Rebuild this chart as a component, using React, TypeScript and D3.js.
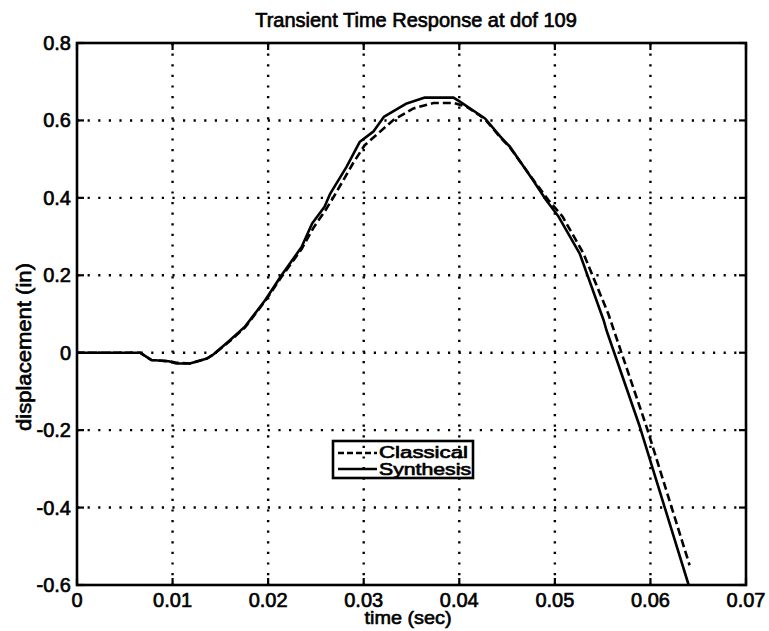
import React from "react";
import * as d3 from "d3";

const title = "Transient Time Response at dof 109";
const xLabel = "time (sec)";
const yLabel = "displacement (in)";
const xTicks = [0, 0.01, 0.02, 0.03, 0.04, 0.05, 0.06, 0.07];
const yTicks = [-0.6, -0.4, -0.2, 0, 0.2, 0.4, 0.6, 0.8];
const legendNames = ["Classical", "Synthesis"];

const synthT = [0, 0.0066, 0.0078, 0.0096, 0.0104, 0.0118, 0.0136, 0.0143, 0.016, 0.0176, 0.0197, 0.0214, 0.0235, 0.0246, 0.0259, 0.0265, 0.0282, 0.0296, 0.031, 0.0321, 0.0345, 0.0364, 0.0394, 0.0401, 0.0427, 0.0443, 0.0453, 0.0477, 0.0491, 0.0504, 0.0526, 0.0551, 0.0554, 0.0589, 0.064];
const synthY = [0, 0, -0.019, -0.022, -0.028, -0.028, -0.015, -0.004, 0.032, 0.068, 0.136, 0.2, 0.273, 0.334, 0.377, 0.411, 0.48, 0.545, 0.571, 0.609, 0.644, 0.659, 0.659, 0.648, 0.605, 0.558, 0.532, 0.446, 0.394, 0.351, 0.256, 0.084, 0.058, -0.192, -0.6];

const classT = [0, 0.0066, 0.0078, 0.0096, 0.0104, 0.0118, 0.0136, 0.0143, 0.016, 0.0176, 0.0197, 0.0214, 0.0235, 0.0248, 0.026, 0.0268, 0.0289, 0.0301, 0.0331, 0.0352, 0.0373, 0.0394, 0.0408, 0.0427, 0.0443, 0.0453, 0.0477, 0.0493, 0.0508, 0.053, 0.0556, 0.0596, 0.0641];
const classY = [0, 0, -0.019, -0.022, -0.026, -0.028, -0.015, -0.004, 0.03, 0.066, 0.134, 0.196, 0.268, 0.325, 0.368, 0.4, 0.49, 0.536, 0.601, 0.631, 0.645, 0.645, 0.635, 0.603, 0.556, 0.53, 0.448, 0.395, 0.352, 0.256, 0.1, -0.192, -0.549];

const W = 769;
const H = 631;
const M = { left: 77, right: 23, top: 43, bottom: 46 };
const FONT = "'Liberation Sans', Arial, Helvetica, sans-serif";

export default function App() {
  const x = d3.scaleLinear().domain([0, 0.07]).range([M.left, W - M.right]);
  const y = d3.scaleLinear().domain([-0.6, 0.8]).range([H - M.bottom, M.top]);
  const line = d3
    .line<[number, number]>()
    .x((d) => x(d[0]))
    .y((d) => y(d[1]));
  const synth = synthT.map((t, i) => [t, synthY[i]] as [number, number]);
  const classical = classT.map((t, i) => [t, classY[i]] as [number, number]);
  const x0 = x(0), x1 = x(0.07), y0 = y(-0.6), y1 = y(0.8);
  const tickLen = 7;
  const textStyle = { fontFamily: FONT, fill: "#000", stroke: "#000", strokeWidth: 0.65 };

  return (
    <svg
      width={W}
      height={H}
      style={{ position: "absolute", left: 0, top: 0, background: "#fff" }}
    >
      <rect x={0} y={0} width={W} height={H} fill="#fff" />
      {/* grid */}
      {xTicks.slice(1, -1).map((t) => (
        <line key={"gx" + t} x1={x(t)} x2={x(t)} y1={y1} y2={y0} stroke="#000" strokeWidth={2.4} strokeDasharray="2.2,8.4" />
      ))}
      {yTicks.slice(1, -1).map((t) => (
        <line key={"gy" + t} x1={x0} x2={x1} y1={y(t)} y2={y(t)} stroke="#000" strokeWidth={2.4} strokeDasharray="2.2,8.4" />
      ))}
      {/* ticks */}
      {xTicks.map((t) => (
        <g key={"tx" + t}>
          <line x1={x(t)} x2={x(t)} y1={y0} y2={y0 - tickLen} stroke="#000" strokeWidth={2.2} />
          <line x1={x(t)} x2={x(t)} y1={y1} y2={y1 + tickLen} stroke="#000" strokeWidth={2.2} />
          <text x={x(t)} y={607} textAnchor="middle" fontSize={20} style={textStyle}>
            {t === 0 ? "0" : String(t)}
          </text>
        </g>
      ))}
      {yTicks.map((t) => (
        <g key={"ty" + t}>
          <line x1={x0} x2={x0 + tickLen} y1={y(t)} y2={y(t)} stroke="#000" strokeWidth={2.2} />
          <line x1={x1} x2={x1 - tickLen} y1={y(t)} y2={y(t)} stroke="#000" strokeWidth={2.2} />
          <text x={71} y={y(t) + 7} textAnchor="end" fontSize={20} style={textStyle}>
            {t === 0 ? "0" : String(Math.round(t * 10) / 10)}
          </text>
        </g>
      ))}
      {/* frame */}
      <rect x={x0} y={y1} width={x1 - x0} height={y0 - y1} fill="none" stroke="#000" strokeWidth={2.6} />
      {/* curves */}
      <path d={line(classical) || ""} fill="none" stroke="#000" strokeWidth={2.6} strokeDasharray="8,4" />
      <path d={line(synth) || ""} fill="none" stroke="#000" strokeWidth={2.6} strokeLinejoin="round" />
      {/* legend */}
      <rect x={333} y={441} width={140} height={37} fill="none" stroke="#000" strokeWidth={2.6} />
      <line x1={338} x2={377} y1={453} y2={453} stroke="#000" strokeWidth={2.5} strokeDasharray="6,3" />
      <line x1={338} x2={377} y1={469} y2={469} stroke="#000" strokeWidth={2.5} />
      <text x={379} y={458} fontSize={16} textLength={89} lengthAdjust="spacingAndGlyphs" style={textStyle}>
        {legendNames[0]}
      </text>
      <text x={379} y={474.5} fontSize={16} textLength={92} lengthAdjust="spacingAndGlyphs" style={textStyle}>
        {legendNames[1]}
      </text>
      {/* labels */}
      <text x={416} y={27} textAnchor="middle" fontSize={20} style={textStyle}>
        {title}
      </text>
      <text x={408} y={624} textAnchor="middle" fontSize={19} textLength={87} lengthAdjust="spacingAndGlyphs" style={textStyle}>
        {xLabel}
      </text>
      <text
        transform={`translate(31,347) rotate(-90)`}
        textAnchor="middle"
        fontSize={20}
        textLength={168}
        lengthAdjust="spacingAndGlyphs"
        style={textStyle}
      >
        {yLabel}
      </text>
    </svg>
  );
}
